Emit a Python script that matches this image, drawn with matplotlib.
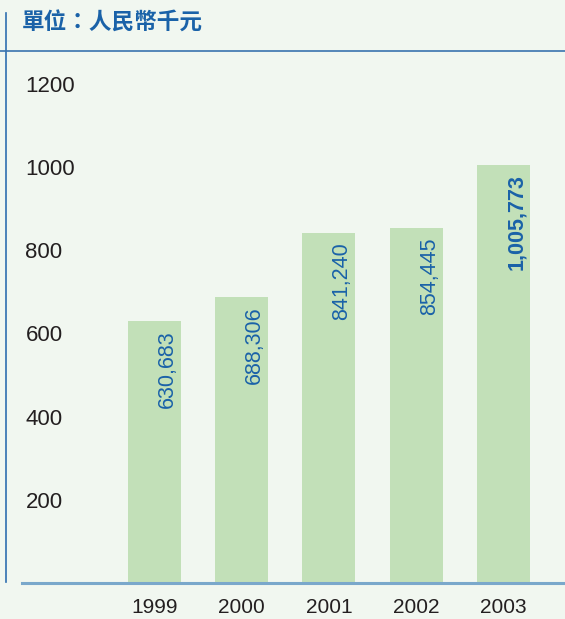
import matplotlib

matplotlib.use("Agg")
import matplotlib.pyplot as plt
from matplotlib.lines import Line2D
import numpy as np

years = ["1999", "2000", "2001", "2002", "2003"]
values = [630683, 688306, 841240, 854445, 1005773]
value_labels = ["630,683", "688,306", "841,240", "854,445", "1,005,773"]
y_ticks = [200, 400, 600, 800, 1000, 1200]
title = "單位：人民幣千元"

BG = "#F1F7F0"
BAR = "#C2E0B8"
BLUE = "#1A62A8"
LINE = "#7AA8CB"
DARK = "#231F20"

W, H = 565, 619
fig = plt.figure(figsize=(W / 100, H / 100), dpi=100, facecolor=BG)

# axes placed in pixel terms of the reference
ax = fig.add_axes([22 / W, (H - 583) / H, (W - 22) / W, (583 - 60) / H])
ax.set_facecolor(BG)
for s in ax.spines.values():
    s.set_visible(False)

x = np.arange(len(years))
heights = np.array(values) / 1000
ax.bar(x, heights, width=0.607, color=BAR, zorder=2)
ax.set_xlim(-1.518, 4.705)
ax.set_ylim(0, (583 - 60) / 0.416)
ax.axhline(0, color=LINE, lw=2.2, zorder=3, clip_on=False)

ax.set_yticks(y_ticks)
ax.set_yticklabels([str(t) for t in y_ticks], fontsize=16, color=DARK,
                   family=["Liberation Sans", "DejaVu Sans"])
for lab in ax.get_yticklabels():
    lab.set_horizontalalignment("left")
ax.tick_params(axis="y", length=0, pad=-2.5)

ax.set_xticks(x)
ax.set_xticklabels(years, fontsize=15, color=DARK, family=["Liberation Sans", "DejaVu Sans"])
ax.tick_params(axis="x", length=0, pad=11)

for i, (h, lab) in enumerate(zip(heights, value_labels)):
    bold = i == len(values) - 1
    ax.text(i + 0.15, h - 23, lab, rotation=90, ha="center", va="top",
            fontsize=15.5, color=BLUE, fontweight="bold" if bold else "normal",
            family=["Liberation Sans", "DejaVu Sans"], zorder=4)

# frame lines and title
fig.add_artist(Line2D([6 / W, 6 / W], [1 - 13 / H, 1 - 582 / H], color="#2F6FB0", lw=1.2))
fig.add_artist(Line2D([0, 1], [1 - 51 / H, 1 - 51 / H], color="#3A74AE", lw=1.2))
fig.text(22 / W, 1 - 23.5 / H, title, fontsize=16.3, fontweight="bold", color=BLUE,
         va="center", ha="left", family=["Noto Sans CJK TC", "DejaVu Sans"])

fig.savefig("out.png", dpi=100, facecolor=BG)
